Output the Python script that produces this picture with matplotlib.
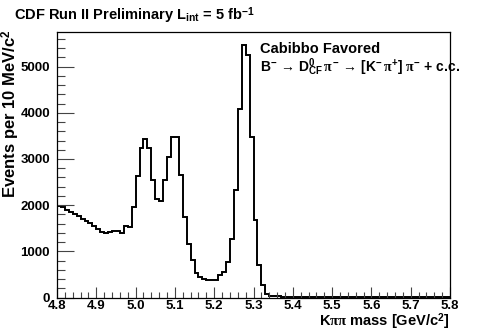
import matplotlib
matplotlib.use("Agg")
import matplotlib.pyplot as plt
import matplotlib.ticker as ticker
import numpy as np

# ── Data: K pi pi invariant mass, 10 MeV bins from 4.80 to 5.80 GeV ─────────
MASS_LO = 4.80
BIN_W = 0.01

COUNTS = [
    1975, 1950, 1900, 1850, 1805, 1755, 1690, 1665, 1620, 1540,   # 4.80-4.89
    1485, 1420, 1400, 1410, 1440, 1450, 1395, 1550, 1530, 1970,   # 4.90-4.99
    2630, 3230, 3440, 3230, 2545, 2130, 2095, 2545, 3050, 3480,   # 5.00-5.09
    3480, 2650, 1750, 1150,  805,  530,  445,  390,  370,  370,   # 5.10-5.19
     375,  493,  558,  768, 1275, 2326, 4087, 5478, 5261, 3478,   # 5.20-5.29
    1688,  696,  261,   80,   43,   30,   25,   20,   18,   16,   # 5.30-5.39
      15,   14,   12,   12,   11,   10,   10,    9,    9,    9,   # 5.40-5.49
       8,    8,    8,    8,    7,    7,    7,    7,    7,    6,   # 5.50-5.59
       6,    6,    6,    6,    6,    5,    5,    5,    5,    5,   # 5.60-5.69
       5,    5,    5,    4,    4,    4,    4,    4,    4,    4,   # 5.70-5.79
]

X_TICKS = [4.8, 4.9, 5.0, 5.1, 5.2, 5.3, 5.4, 5.5, 5.6, 5.7, 5.8]
Y_TICKS = [0, 1000, 2000, 3000, 4000, 5000]

# ── Style ────────────────────────────────────────────────────────────────────
plt.rcParams["font.family"] = ["Liberation Sans", "DejaVu Sans"]
plt.rcParams["font.weight"] = "bold"
plt.rcParams["mathtext.fontset"] = "custom"
plt.rcParams["mathtext.rm"] = "Liberation Sans:bold"
plt.rcParams["mathtext.it"] = "Liberation Serif"
plt.rcParams["mathtext.bf"] = "Liberation Sans:bold"

W, H = 491, 332
fig = plt.figure(figsize=(W / 100, H / 100), dpi=100)
fig.patch.set_facecolor("white")

# axes box in pixel coords of the reference
left, right, top, bottom = 57, 450, 32, 297.5
ax = fig.add_axes([left / W, 1 - bottom / H, (right - left) / W, (bottom - top) / H])

counts = np.array(COUNTS, dtype=float)
edges = MASS_LO + BIN_W * np.arange(len(counts) + 1)
ax.stairs(counts, edges, baseline=None, color="black", linewidth=1.4)

ax.set_xlim(4.8, 5.8)
ax.set_ylim(0, 5750)

ax.set_xticks(X_TICKS)
ax.set_xticklabels([f"{v:.1f}" for v in X_TICKS])
ax.xaxis.set_minor_locator(ticker.MultipleLocator(0.02))
ax.set_yticks(Y_TICKS)
ax.yaxis.set_minor_locator(ticker.MultipleLocator(200))

ax.tick_params(axis="both", which="both", direction="in", top=False, right=False,
               labelsize=9.5, width=0.8, color="#444444")
ax.tick_params(axis="x", which="major", length=8, pad=2)
ax.tick_params(axis="x", which="minor", length=4)
ax.tick_params(axis="y", which="major", length=12, pad=5)
ax.tick_params(axis="y", which="minor", length=6)
for lab in ax.get_xticklabels() + ax.get_yticklabels():
    lab.set_fontweight("bold")

for s in ax.spines.values():
    s.set_linewidth(0.9)

# ── Texts ────────────────────────────────────────────────────────────────────
fig.text(14 / W, 1 - 20 / H,
         r"CDF Run II Preliminary L$_{\rm int}$ = 5 fb$^{-1}$",
         fontsize=10.5, fontweight="bold", ha="left", va="baseline")

fig.text(11 / W, 1 - 29 / H, r"Events per 10 MeV/c$^{2}$",
         rotation=90, fontsize=12, fontweight="bold", ha="center", va="top")

fig.text(450 / W, 1 - 326 / H, r"K$\mathit{\pi\pi}$ mass [GeV/c$^{2}$]",
         fontsize=10.5, fontweight="bold", ha="right", va="baseline")

fig.text(260 / W, 1 - 53 / H, "Cabibbo Favored",
         fontsize=10.5, fontweight="bold", ha="left", va="baseline")
fig.text(260 / W, 1 - 71 / H,
         r"B$^{-}\,\rightarrow\,$D$^{0}_{\rm CF}\,\mathit{\pi}^{-}\,\rightarrow\,$"
         r"[K$^{-}\,\mathit{\pi}^{+}$] $\mathit{\pi}^{-}$ + c.c.",
         fontsize=10, fontweight="bold", ha="left", va="baseline")

plt.savefig("out.png", dpi=100, facecolor="white")
